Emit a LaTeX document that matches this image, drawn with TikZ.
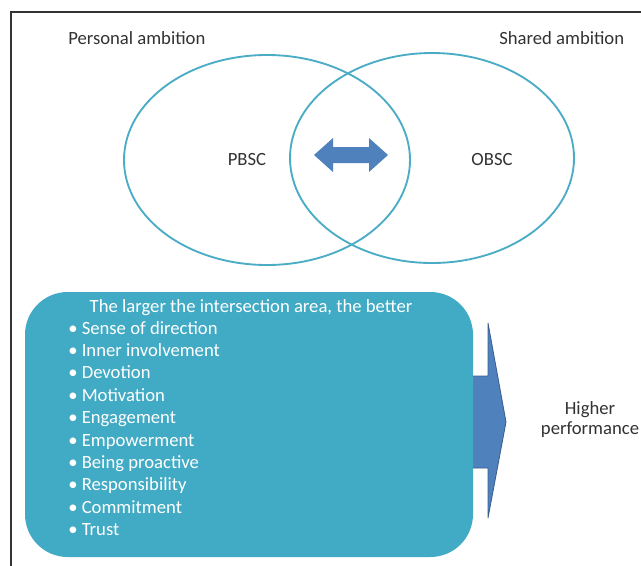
\documentclass[tikz,border=0pt]{standalone}
\usepackage{fontspec}
\setmainfont{Carlito}
\usetikzlibrary{positioning}
\definecolor{ringaqua}{RGB}{75,172,198}
\definecolor{boxaqua}{RGB}{65,170,196}
\definecolor{arrowblue}{RGB}{79,129,189}
\definecolor{arrowedge}{RGB}{56,93,138}
\definecolor{labelgray}{RGB}{50,50,50}
\tikzset{%
	ring/.style     = {draw=ringaqua, line width=1.4pt},
	label/.style    = {text=labelgray, font=\fontsize{14}{15}\selectfont, inner sep=0pt},
	boxtext/.style  = {text=white, font=\fontsize{14}{15}\selectfont, inner sep=0pt, anchor=base west},
	bigbox/.style   = {fill=boxaqua, rounded corners=32pt, minimum width=336pt, minimum height=198.75pt, inner sep=0pt},
	blockarrow/.style = {fill=arrowblue, draw=arrowedge, line width=0.6pt, line join=miter},
}
\begin{document}
\begin{tikzpicture}[x=0.75pt,y=-0.75pt]
	\useasboundingbox (0,0) rectangle (641,565);
	\draw[line width=0.9pt, black!80] (641,12) -- (11,12) -- (11,566);  % frame
	% the two ambitions
	\draw[ring] (267,160) ellipse [x radius=143, y radius=105];
	\draw[ring] (432,158) ellipse [x radius=142, y radius=105];
	\node[label, anchor=base west] (personal) at (68,44) {Personal ambition};
	\node[label, anchor=base west] (shared) at (499,44) {Shared ambition};
	\node[label, anchor=base] (pbsc) at (247,165) {PBSC};
	\node[label, anchor=base] (obsc) at (492,165) {OBSC};
	\fill[arrowblue] (314,155) -- (333,138) -- (333,147) -- (369,147) -- (369,138) -- (388,155)
		-- (369,172) -- (369,163) -- (333,163) -- (333,172) -- cycle;
	% arrow to performance
	\draw[blockarrow] (460,376) -- (488,376) -- (488,323) -- (506,422) -- (488,518) -- (488,468) -- (460,468) -- cycle;
	\node[bigbox] (gain) at (249,424.5) {};
	\node[boxtext, anchor=base] (better) at (251,312) {The larger the intersection area, the better};
	\foreach \item [count=\i from 0] in {Sense of direction,Inner involvement,Devotion,Motivation,Engagement,Empowerment,Being proactive,Responsibility,Commitment,Trust}
		\node[boxtext] (item\i) at (68,334+22.4*\i) {• \item};
	\node[label, align=center] (perf) at (590,420) {Higher\\performance};
\end{tikzpicture}
\end{document}
